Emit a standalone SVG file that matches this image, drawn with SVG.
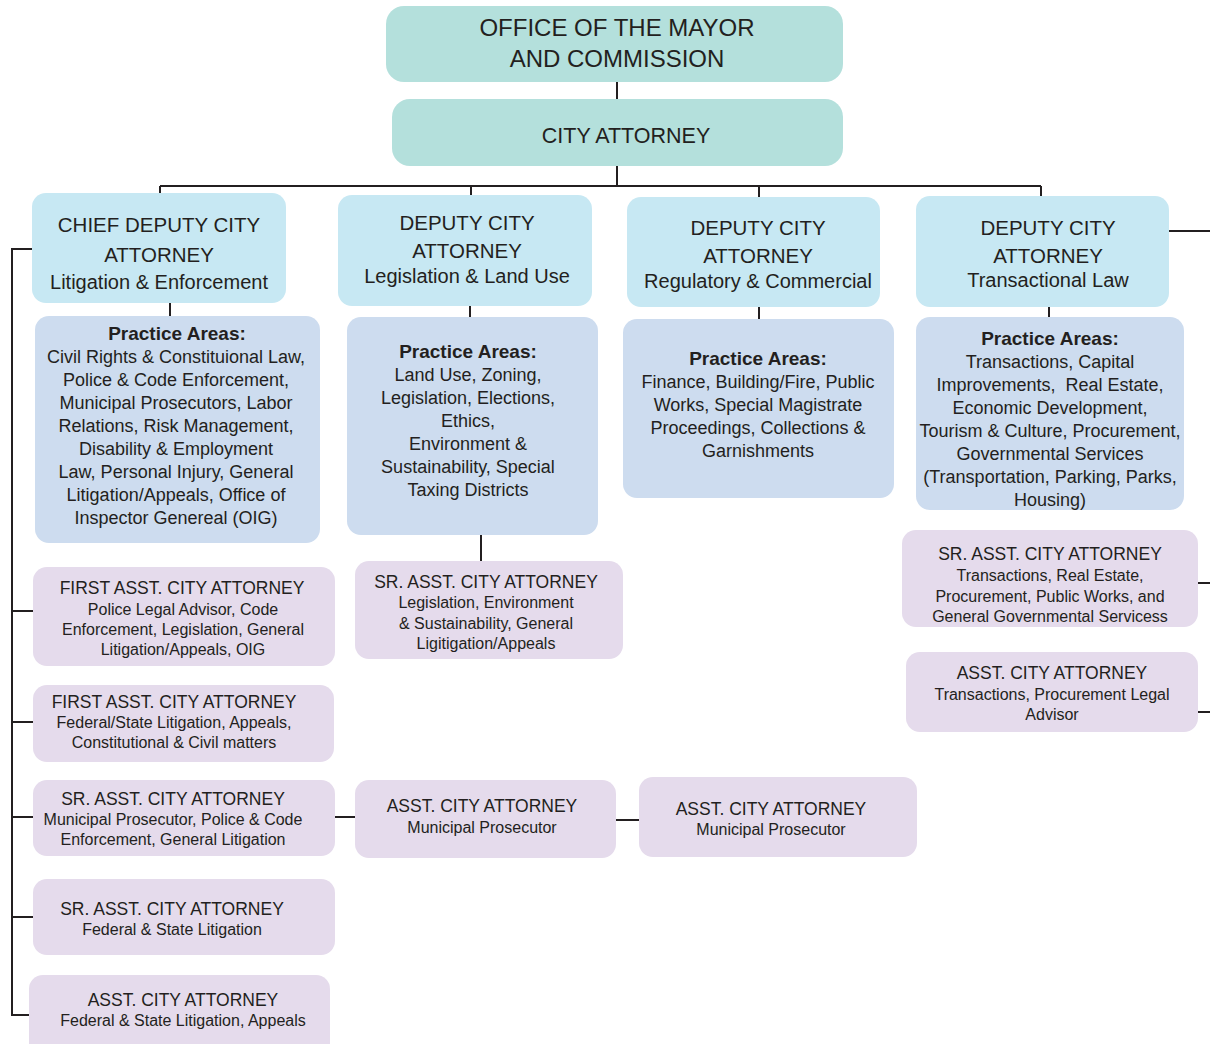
<svg xmlns="http://www.w3.org/2000/svg" width="1210" height="1044" viewBox="0 0 1210 1044">
<style>
.top{fill:#b4e0dc}
.dep{fill:#c7e8f3}
.pa{fill:#cddcef}
.as{fill:#e5dbec}
text{font-family:"Liberation Sans",Arial,sans-serif;fill:#231f20;text-anchor:middle}
.t1{font-size:24px}
.t2{font-size:21.5px}
.dh{font-size:20.5px}
.ds{font-size:20px}
.ph{font-size:19px;font-weight:bold}
.pt{font-size:18px}
.at{font-size:17.5px}
.asb{font-size:16px}
.pre{white-space:pre}
.con{stroke:#231f20;stroke-width:2;fill:none}
</style>
<rect width="1210" height="1044" fill="#ffffff"/>
<g id="connectors" class="con">
<path d="M617 82V99M617 166V186M160 186H1041M160 186V193M471 186V195M759 186V197M1041 186V196"/>
<path d="M170 303V316M470 306V317M759 307V319M1049 307V317M481 535V561"/>
<path d="M33 249H12V1015H29M12 611H33M12 722H33M12 817H33M12 917H33"/>
<path d="M335 817H355M616 820H639"/>
<path d="M1169 231H1210M1198 583H1210M1198 712H1210"/>
</g>
<g id="mayor"><rect class="top" x="386" y="6" width="457" height="76" rx="18"/><text class="t1" x="617" y="36">OFFICE OF THE MAYOR</text><text class="t1" x="617" y="67">AND COMMISSION</text></g>
<g id="city-attorney"><rect class="top" x="392" y="99" width="451" height="67" rx="18"/><text class="t2" x="626" y="143">CITY ATTORNEY</text></g>

<g id="chief-deputy"><rect class="dep" x="32" y="193" width="254" height="110" rx="14"/><text class="dh" x="159" y="232">CHIEF DEPUTY CITY</text><text class="dh" x="159" y="262">ATTORNEY</text><text class="ds" x="159" y="289">Litigation &amp; Enforcement</text></g>
<g id="deputy-legislation"><rect class="dep" x="338" y="195" width="254" height="111" rx="14"/><text class="dh" x="467" y="230">DEPUTY CITY</text><text class="dh" x="467" y="258">ATTORNEY</text><text class="ds" x="467" y="283">Legislation &amp; Land Use</text></g>
<g id="deputy-regulatory"><rect class="dep" x="627" y="197" width="253" height="110" rx="14"/><text class="dh" x="758" y="235">DEPUTY CITY</text><text class="dh" x="758" y="263">ATTORNEY</text><text class="ds" x="758" y="288">Regulatory &amp; Commercial</text></g>
<g id="deputy-transactional"><rect class="dep" x="916" y="196" width="253" height="111" rx="14"/><text class="dh" x="1048" y="235">DEPUTY CITY</text><text class="dh" x="1048" y="263">ATTORNEY</text><text class="ds" x="1048" y="287">Transactional Law</text></g>

<g id="practice-litigation"><rect class="pa" x="35" y="316" width="285" height="227" rx="14"/>
<text class="ph" x="177" y="340">Practice Areas:</text>
<text class="pt" x="176" y="363">Civil Rights &amp; Constituional Law,</text>
<text class="pt" x="176" y="386">Police &amp; Code Enforcement,</text>
<text class="pt" x="176" y="409">Municipal Prosecutors, Labor</text>
<text class="pt" x="176" y="432">Relations, Risk Management,</text>
<text class="pt" x="176" y="455">Disability &amp; Employment</text>
<text class="pt" x="176" y="478">Law, Personal Injury, General</text>
<text class="pt" x="176" y="501">Litigation/Appeals, Office of</text>
<text class="pt" x="176" y="524">Inspector Genereal (OIG)</text></g>
<g id="practice-legislation"><rect class="pa" x="347" y="317" width="251" height="218" rx="14"/>
<text class="ph" x="468" y="358">Practice Areas:</text>
<text class="pt" x="468" y="381">Land Use, Zoning,</text>
<text class="pt" x="468" y="404">Legislation, Elections,</text>
<text class="pt" x="468" y="427">Ethics,</text>
<text class="pt" x="468" y="450">Environment &amp;</text>
<text class="pt" x="468" y="473">Sustainability, Special</text>
<text class="pt" x="468" y="496">Taxing Districts</text></g>
<g id="practice-regulatory"><rect class="pa" x="623" y="319" width="271" height="179" rx="14"/>
<text class="ph" x="758" y="365">Practice Areas:</text>
<text class="pt" x="758" y="388">Finance, Building/Fire, Public</text>
<text class="pt" x="758" y="411">Works, Special Magistrate</text>
<text class="pt" x="758" y="434">Proceedings, Collections &amp;</text>
<text class="pt" x="758" y="457">Garnishments</text></g>
<g id="practice-transactional"><rect class="pa" x="916" y="317" width="268" height="193" rx="14"/>
<text class="ph" x="1050" y="345">Practice Areas:</text>
<text class="pt" x="1050" y="368">Transactions, Capital</text>
<text class="pt pre" x="1050" y="391">Improvements,  Real Estate,</text>
<text class="pt" x="1050" y="414">Economic Development,</text>
<text class="pt" x="1050" y="437">Tourism &amp; Culture, Procurement,</text>
<text class="pt" x="1050" y="460">Governmental Services</text>
<text class="pt" x="1050" y="483">(Transportation, Parking, Parks,</text>
<text class="pt" x="1050" y="506">Housing)</text></g>

<g id="first-asst-police"><rect class="as" x="33" y="567" width="302" height="99" rx="14"/><text class="at" x="182" y="594">FIRST ASST. CITY ATTORNEY</text><text class="asb" x="183" y="615">Police Legal Advisor, Code</text><text class="asb" x="183" y="635">Enforcement, Legislation, General</text><text class="asb" x="183" y="655">Litigation/Appeals, OIG</text></g>
<g id="first-asst-federal"><rect class="as" x="33" y="685" width="301" height="77" rx="14"/><text class="at" x="174" y="708">FIRST ASST. CITY ATTORNEY</text><text class="asb" x="174" y="728">Federal/State Litigation, Appeals,</text><text class="asb" x="174" y="748">Constitutional &amp; Civil matters</text></g>
<g id="sr-asst-municipal"><rect class="as" x="33" y="780" width="302" height="76" rx="14"/><text class="at" x="173" y="805">SR. ASST. CITY ATTORNEY</text><text class="asb" x="173" y="825">Municipal Prosecutor, Police &amp; Code</text><text class="asb" x="173" y="845">Enforcement, General Litigation</text></g>
<g id="sr-asst-federal"><rect class="as" x="33" y="879" width="302" height="76" rx="14"/><text class="at" x="172" y="915">SR. ASST. CITY ATTORNEY</text><text class="asb" x="172" y="935">Federal &amp; State Litigation</text></g>
<g id="asst-federal"><rect class="as" x="29" y="975" width="301" height="85" rx="14"/><text class="at" x="183" y="1006">ASST. CITY ATTORNEY</text><text class="asb" x="183" y="1026">Federal &amp; State Litigation, Appeals</text></g>
<g id="sr-asst-legislation"><rect class="as" x="355" y="561" width="268" height="98" rx="14"/><text class="at" x="486" y="588">SR. ASST. CITY ATTORNEY</text><text class="asb" x="486" y="608">Legislation, Environment</text><text class="asb" x="486" y="629">&amp; Sustainability, General</text><text class="asb" x="486" y="649">Ligitigation/Appeals</text></g>
<g id="asst-municipal-1"><rect class="as" x="355" y="780" width="261" height="78" rx="14"/><text class="at" x="482" y="812">ASST. CITY ATTORNEY</text><text class="asb" x="482" y="833">Municipal Prosecutor</text></g>
<g id="asst-municipal-2"><rect class="as" x="639" y="777" width="278" height="80" rx="14"/><text class="at" x="771" y="815">ASST. CITY ATTORNEY</text><text class="asb" x="771" y="835">Municipal Prosecutor</text></g>
<g id="sr-asst-transactions"><rect class="as" x="902" y="530" width="296" height="97" rx="14"/><text class="at" x="1050" y="560">SR. ASST. CITY ATTORNEY</text><text class="asb" x="1050" y="581">Transactions, Real Estate,</text><text class="asb" x="1050" y="602">Procurement, Public Works, and</text><text class="asb" x="1050" y="622">General Governmental Servicess</text></g>
<g id="asst-transactions"><rect class="as" x="906" y="652" width="292" height="80" rx="14"/><text class="at" x="1052" y="679">ASST. CITY ATTORNEY</text><text class="asb" x="1052" y="700">Transactions, Procurement Legal</text><text class="asb" x="1052" y="720">Advisor</text></g>
</svg>
